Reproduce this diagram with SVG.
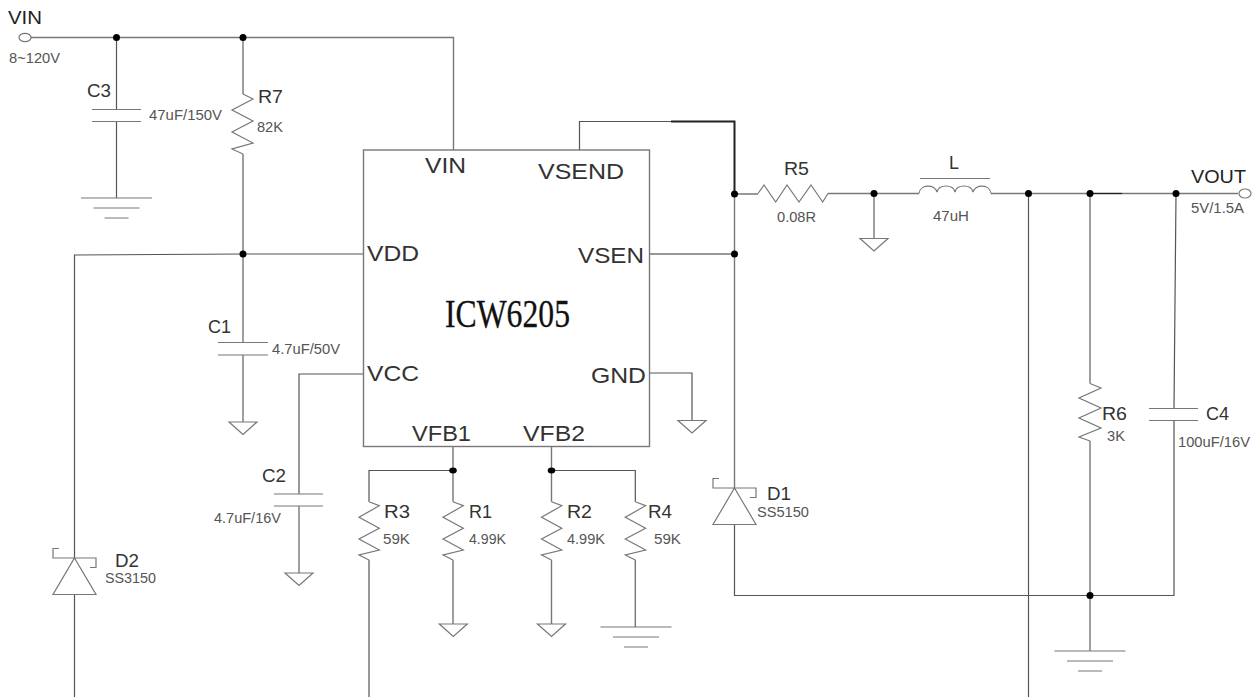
<svg xmlns="http://www.w3.org/2000/svg" xmlns:xlink="http://www.w3.org/1999/xlink" width="1256" height="697" viewBox="0 0 1256 697">
<style>
.w{fill:none;stroke:#777;stroke-width:1.4}
.k{fill:none;stroke:#555;stroke-width:1.2}
.h{fill:none;stroke:#222;stroke-width:2}
.s{fill:none;stroke:#777;stroke-width:1.2}
.d{fill:#000;stroke:none}
.p{fill:#fff;stroke:#777;stroke-width:1.2}
text{font-family:"Liberation Sans",Arial,sans-serif}
.a{font-size:18px;fill:#222}
.b{font-size:14.5px;fill:#555}
.c{font-size:18.5px;fill:#333}
.e{font-size:21.500px;fill:#333}
.ic{font-family:"Liberation Serif","Times New Roman",serif;font-size:39px;fill:#111;stroke:#111;stroke-width:.3}
</style>
<defs>
<path id="rv" class="s" d="M0 0L10.3 4L-10 15.6L10.3 26.6L-10 37.3L10.3 48.3L-10 53.3L0 58.3"/>
<path id="gt" class="p" d="M-14 0H14L0 12.5Z"/>
<path id="ge" class="s" d="M-35.500 0H35.500M-23 10H23M-12 20H12"/>
<path id="dd" class="s" d="M0 0L21.500 36.500H-21.500ZM-15.500 -9.500H-21.500V0H21.500V9.500H15.500"/>
</defs>
<g id="connectors">
<path class="w" d="M31 37.500H453.500V150"/>
<path class="k" d="M116.500 37.500V109.500M116.500 121.500V198"/>
<path class="w" d="M243 37.500V94M243 154V342M243 355V422"/>
<path class="k" d="M363.500 254H243L74.500 255V558M74.500 594V697"/>
<path class="k" d="M363.500 374H299V494"/>
<path class="w" d="M299 506V573"/>
<path class="k" d="M579.500 150V121.500H671"/>
<path class="h" d="M671 121.500H734.500V194"/>
<path class="w" d="M734.500 194V488M649.500 254H734.500"/>
<path class="k" d="M649.500 373H692V420"/>
<path class="k" d="M734.500 524.500V595.500H1174V420.500M1174 408.500L1176 194"/>
<path class="w" d="M734.500 194H758M828 193.500H919M991 193.500H1238M874 193.500V238.500"/>
<path class="h" style="stroke-width:1.2" d="M1090 193.500H1122"/>
<path class="k" d="M1028.500 193.500V697"/>
<path class="w" d="M1090 193.500V383.500M1090 441V651"/>
<path class="w" d="M453 446.500V501.700M453 560V624M551.500 446.500V501.700M551.500 560V624M635.300 560V627"/>
<path class="k" d="M453 470.500H369V501.700M369 560V697M551.500 470.500H635.300V501.700"/>
<ellipse class="d" cx="116.500" cy="37.500" rx="3.500" ry="3.500"/>
<ellipse class="d" cx="243" cy="37.500" rx="3.500" ry="3.500"/>
<ellipse class="d" cx="243" cy="254" rx="3.500" ry="3.500"/>
<ellipse class="d" cx="734.500" cy="194" rx="3.500" ry="3.500"/>
<ellipse class="d" cx="734.500" cy="254" rx="3.500" ry="3.500"/>
<ellipse class="d" cx="874" cy="193.500" rx="3.500" ry="3.500"/>
<ellipse class="d" cx="1028.500" cy="193.500" rx="3.500" ry="3.500"/>
<ellipse class="d" cx="1090" cy="193.500" rx="3.500" ry="3.500"/>
<ellipse class="d" cx="1176" cy="193.500" rx="3.500" ry="3.500"/>
<ellipse class="d" cx="1090" cy="595.500" rx="3.500" ry="3.500"/>
<ellipse class="d" cx="453" cy="470.500" rx="3.800" ry="3"/>
<ellipse class="d" cx="551.500" cy="470.500" rx="3.800" ry="3"/>
</g>
<g id="VIN-port"><ellipse class="p" cx="25" cy="37.500" rx="6" ry="4.200"/>
<text class="a" x="8" y="24" textLength="34" lengthAdjust="spacingAndGlyphs">VIN</text>
<text class="b" x="9" y="62.500" textLength="51" lengthAdjust="spacingAndGlyphs">8~120V</text></g>
<g id="C3"><path class="s" d="M92 109.500H141M92 121.500H141"/><use href="#ge" x="116.500" y="198"/>
<text class="c" x="87" y="97" textLength="24" lengthAdjust="spacingAndGlyphs">C3</text>
<text class="b" x="149" y="120" textLength="73" lengthAdjust="spacingAndGlyphs">47uF/150V</text></g>
<g id="R7"><path class="s" d="M243 94L253 99L232 110L253 121L232 132L253 143L232 149L243 154"/>
<text class="c" x="258" y="103" textLength="25" lengthAdjust="spacingAndGlyphs">R7</text>
<text class="b" x="257" y="132" textLength="26" lengthAdjust="spacingAndGlyphs">82K</text></g>
<g id="C1"><path class="s" d="M218 342.500H268M218 355H268"/><use href="#gt" x="243" y="422"/>
<text class="c" x="208" y="333" textLength="23" lengthAdjust="spacingAndGlyphs">C1</text>
<text class="b" x="272" y="354" textLength="68" lengthAdjust="spacingAndGlyphs">4.7uF/50V</text></g>
<g id="C2"><path class="s" d="M274 494H323M274 506H323"/><use href="#gt" x="299" y="573"/>
<text class="c" x="262" y="482" textLength="24" lengthAdjust="spacingAndGlyphs">C2</text>
<text class="b" x="214" y="523" textLength="67" lengthAdjust="spacingAndGlyphs">4.7uF/16V</text></g>
<g id="D2"><use href="#dd" x="74.500" y="558"/>
<text class="c" x="115" y="567" textLength="24" lengthAdjust="spacingAndGlyphs">D2</text>
<text class="b" x="105" y="583" textLength="51" lengthAdjust="spacingAndGlyphs">SS3150</text></g>
<g id="ICW6205"><rect x="363.500" y="150" width="286" height="296.500" fill="none" stroke="#777" stroke-width="1.400"/>
<text class="e" x="425" y="172.700" textLength="41" lengthAdjust="spacingAndGlyphs">VIN</text>
<text class="e" x="538" y="178.700" textLength="86" lengthAdjust="spacingAndGlyphs">VSEND</text>
<text class="e" x="367" y="260.700" textLength="52" lengthAdjust="spacingAndGlyphs">VDD</text>
<text class="e" x="578" y="263" textLength="66" lengthAdjust="spacingAndGlyphs">VSEN</text>
<text class="e" x="367" y="380.700" textLength="52" lengthAdjust="spacingAndGlyphs">VCC</text>
<text class="e" x="591" y="382.700" textLength="55" lengthAdjust="spacingAndGlyphs">GND</text>
<text class="e" x="412" y="441" textLength="59" lengthAdjust="spacingAndGlyphs">VFB1</text>
<text class="e" x="523" y="441" textLength="62" lengthAdjust="spacingAndGlyphs">VFB2</text>
<text class="ic" x="445" y="327" textLength="125" lengthAdjust="spacingAndGlyphs">ICW6205</text></g>
<g id="GND-stub"><use href="#gt" x="692" y="420.500"/></g>
<g id="R3"><use href="#rv" x="369" y="501.700"/>
<text class="c" x="384" y="518" textLength="26" lengthAdjust="spacingAndGlyphs">R3</text>
<text class="b" x="383" y="544" textLength="27" lengthAdjust="spacingAndGlyphs">59K</text></g>
<g id="R1"><use href="#rv" x="453" y="501.700"/><use href="#gt" x="453.300" y="624"/>
<text class="c" x="469" y="518" textLength="23" lengthAdjust="spacingAndGlyphs">R1</text>
<text class="b" x="469" y="544" textLength="37" lengthAdjust="spacingAndGlyphs">4.99K</text></g>
<g id="R2"><use href="#rv" x="551.500" y="501.700"/><use href="#gt" x="551.500" y="624"/>
<text class="c" x="567" y="518" textLength="25" lengthAdjust="spacingAndGlyphs">R2</text>
<text class="b" x="567" y="544" textLength="38" lengthAdjust="spacingAndGlyphs">4.99K</text></g>
<g id="R4"><use href="#rv" x="635.300" y="501.700"/><use href="#ge" x="636" y="627"/>
<text class="c" x="648" y="518" textLength="24" lengthAdjust="spacingAndGlyphs">R4</text>
<text class="b" x="654" y="544" textLength="27" lengthAdjust="spacingAndGlyphs">59K</text></g>
<g id="D1"><use href="#dd" x="734.500" y="488"/>
<text class="c" x="767" y="500" textLength="24" lengthAdjust="spacingAndGlyphs">D1</text>
<text class="b" x="757" y="517" textLength="52" lengthAdjust="spacingAndGlyphs">SS5150</text></g>
<g id="R5"><path class="s" d="M758 193.500L764 185L775.700 202L787 185L799 202L811 185L822.700 202L828 193.500"/>
<text class="c" x="784" y="175" textLength="25" lengthAdjust="spacingAndGlyphs">R5</text>
<text class="b" x="777" y="222" textLength="39" lengthAdjust="spacingAndGlyphs">0.08R</text></g>
<g id="R5-gnd"><use href="#gt" x="874" y="238.500"/></g>
<g id="L"><path class="s" d="M919 193.500C920 184 935 184 937 192C939 184 953 184 955 192C957 184 971 184 973 192C975 184 990 184 991 193.500M920 178.500H990"/>
<text class="c" x="949" y="169" textLength="10" lengthAdjust="spacingAndGlyphs">L</text>
<text class="b" x="933" y="221" textLength="36" lengthAdjust="spacingAndGlyphs">47uH</text></g>
<g id="R6"><path class="s" d="M1090 383.500L1101 388L1079 398L1101 408L1079 418L1101 428L1079 437L1090 441"/>
<text class="c" x="1102" y="420" textLength="25" lengthAdjust="spacingAndGlyphs">R6</text>
<text class="b" x="1107" y="441" textLength="18" lengthAdjust="spacingAndGlyphs">3K</text></g>
<g id="C4"><path class="s" d="M1149 408.500H1198M1149 420.500H1198"/>
<text class="c" x="1206" y="420" textLength="23" lengthAdjust="spacingAndGlyphs">C4</text>
<text class="b" x="1178" y="447" textLength="72" lengthAdjust="spacingAndGlyphs">100uF/16V</text></g>
<g id="VOUT-port"><ellipse class="p" cx="1245" cy="193.500" rx="6" ry="4.500"/>
<text class="a" x="1191" y="183" textLength="55" lengthAdjust="spacingAndGlyphs">VOUT</text>
<text class="b" x="1191" y="212.500" textLength="53" lengthAdjust="spacingAndGlyphs">5V/1.5A</text></g>
<g id="GND-out"><use href="#ge" x="1090" y="651"/></g>
</svg>
